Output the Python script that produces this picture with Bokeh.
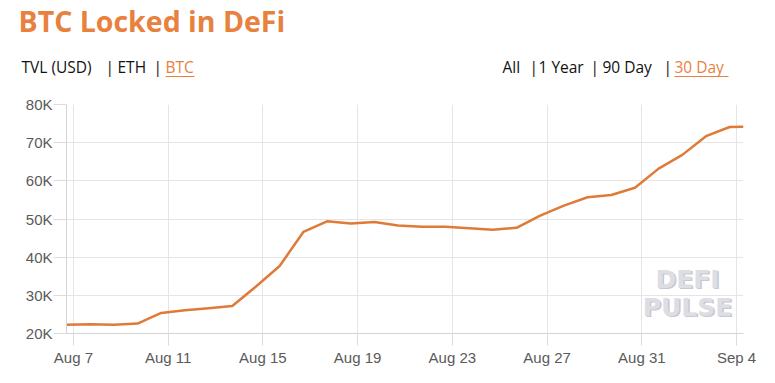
import pandas as pd
from bokeh.plotting import figure
from bokeh.layouts import column
from bokeh.models import Range1d, FixedTicker, DatetimeTickFormatter, Label
from bokeh.core.properties import value
from bokeh.embed import file_html
from bokeh.resources import INLINE

# ---- data ----
start_time = "2020-08-06 17:00"
btc_locked = [22300, 22400, 22300, 22600, 25400, 26100, 26600, 27200, 32300,
              37700, 46600, 49400, 48800, 49200, 48300, 48000, 48000, 47600,
              47200, 47700, 50900, 53500, 55700, 56300, 58200, 63200, 66800,
              71700, 74100]
last_time = "2020-09-04 07:00"
last_value = 74200

tick_dates = ["2020-08-07", "2020-08-11", "2020-08-15", "2020-08-19",
              "2020-08-23", "2020-08-27", "2020-08-31", "2020-09-04"]
y_ticks = [20000, 30000, 40000, 50000, 60000, 70000, 80000]
y_tick_labels = ["20K", "30K", "40K", "50K", "60K", "70K", "80K"]

title_text = "BTC Locked in DeFi"
unit_options = ["TVL (USD)", "ETH", "BTC"]
range_options = ["All", "1 Year", "90 Day", "30 Day"]
watermark = ["DEFI", "PULSE"]

ORANGE = "#E8813E"
LINE = "#E07A38"
GRID = "#e5e5e5"
LABEL = "#5a5a5a"
W = 760
HEAD_H = 92

# ---- header (pixel coordinates, y from bottom) ----
h = figure(width=W, height=HEAD_H, output_backend="svg", toolbar_location=None,
           x_range=Range1d(0, W), y_range=Range1d(0, HEAD_H),
           x_axis_location=None, y_axis_location=None,
           min_border=0, min_border_left=0, min_border_right=0,
           min_border_top=0, min_border_bottom=0)
h.frame_align = False
h.grid.visible = False
h.outline_line_color = None

h.text(x=[18], y=[HEAD_H - 20], text=[title_text], text_color=ORANGE,
       text_font=value("Open Sans"), text_font_style="bold",
       text_font_size="28.5px", text_baseline="alphabetic")

sub_font = value("Open Sans")
sub_size = "15.5px"
base = HEAD_H - 66
left_items = [unit_options[0], "|", unit_options[1], "|", unit_options[2]]
left_x = [21, 105, 117, 153, 165]
left_col = ["#111111", "#111111", "#111111", "#111111", ORANGE]
h.text(x=left_x, y=[base] * len(left_items), text=left_items, text_color=left_col,
       text_font=sub_font, text_font_size=sub_size, text_baseline="alphabetic")

right_items = [range_options[0], "|", range_options[1], "|", range_options[2], "|",
               range_options[3]]
right_x = [502, 529, 538, 590, 602, 663, 674]
right_col = ["#111111"] * 6 + [ORANGE]
h.text(x=right_x, y=[base] * len(right_items), text=right_items, text_color=right_col,
       text_font=sub_font, text_font_size=sub_size, text_baseline="alphabetic")

# underlines of the selected options
ul = HEAD_H - 76
h.segment(x0=[165, 674], y0=[ul, ul], x1=[194, 728], y1=[ul, ul],
          line_color=ORANGE, line_width=1)

# ---- main chart ----
dates = list(pd.date_range(start_time, periods=len(btc_locked), freq="D")) + [pd.Timestamp(last_time)]
values = btc_locked + [last_value]

p = figure(width=W, height=283, x_axis_type="datetime",
           output_backend="svg", toolbar_location=None,
           min_border_left=66, min_border_right=W - 743, min_border_top=12,
           min_border_bottom=42)
p.frame_align = False
p.x_range = Range1d(pd.Timestamp(start_time), pd.Timestamp(last_time))
p.y_range = Range1d(20000, 80000)
p.outline_line_color = None

p.line(dates, values, line_color=LINE, line_width=2.5, line_join="round")

tick_ms = [pd.Timestamp(d).value / 1e6 for d in tick_dates]
p.xaxis.ticker = FixedTicker(ticks=tick_ms)
p.xaxis.formatter = DatetimeTickFormatter(days="%b %-d", months="%b %-d")
p.yaxis.ticker = FixedTicker(ticks=y_ticks)
p.yaxis.major_label_overrides = {v: l for v, l in zip(y_ticks, y_tick_labels)}

for ax in (p.xaxis[0], p.yaxis[0]):
    ax.axis_line_color = "#d4d4d4"
    ax.major_tick_line_color = "#dcdcdc"
    ax.minor_tick_line_color = None
    ax.major_tick_in = 0
    ax.major_label_text_color = LABEL
    ax.major_label_text_font = "Liberation Sans"
    ax.major_label_text_font_size = "15px"
p.xaxis.major_tick_out = 12
p.yaxis.major_tick_out = 13
p.xaxis.major_label_standoff = 3
p.yaxis.major_label_standoff = 1

p.xgrid.grid_line_color = GRID
p.ygrid.grid_line_color = GRID

# ---- watermark (screen units relative to the plot frame) ----
for dx, dy, col in [(1.5, -1.5, "#c8c8d0"), (0, 0, "#dddde4")]:
    p.add_layout(Label(x=621 + dx, y=40 + dy, x_units="screen", y_units="screen",
                       text=watermark[0], text_color=col, text_align="center",
                       text_font="DejaVu Sans", text_font_style="bold",
                       text_font_size="25px"))
    p.add_layout(Label(x=621 + dx, y=12 + dy, x_units="screen", y_units="screen",
                       text=watermark[1], text_color=col, text_align="center",
                       text_font="DejaVu Sans", text_font_style="bold",
                       text_font_size="25px"))

layout = column(h, p, spacing=0)
open("out.html", "w").write(file_html(layout, INLINE))
